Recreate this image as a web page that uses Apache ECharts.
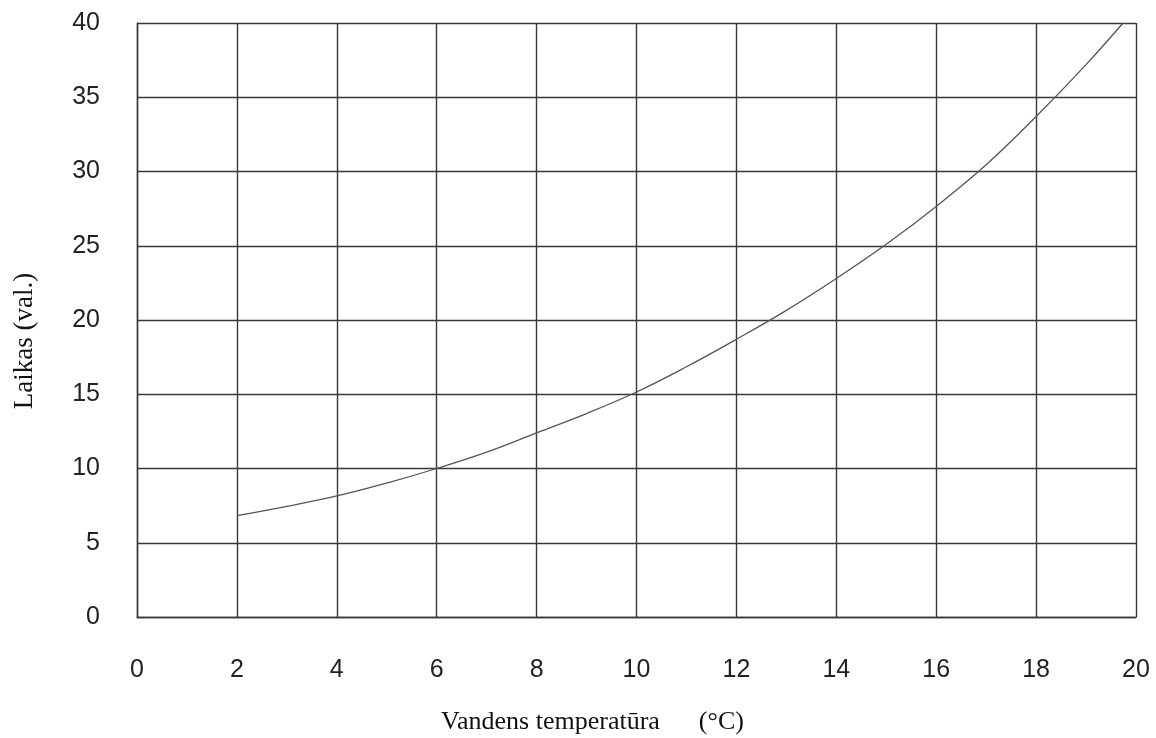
<!DOCTYPE html>
<html>
<head>
<meta charset="utf-8">
<script src="https://cdn.jsdelivr.net/npm/echarts@6/dist/echarts.min.js"></script>
<style>html,body{margin:0;padding:0;background:#fff}#c{width:1156px;height:738px}</style>
</head>
<body>
<div id="c"></div>
<script>
const temperature = [2, 3, 4, 5, 6, 7, 8, 9, 10, 11, 12, 13, 14, 15, 16, 17, 18, 19, 19.74];
const hours = [6.82, 7.45, 8.15, 9.02, 10.0, 11.1, 12.4, 13.7, 15.15, 16.85, 18.7, 20.65, 22.8, 25.1, 27.65, 30.45, 33.7, 37.2, 40.0];
const xTitle = 'Vandens temperatūra      (°C)';
const yTitle = 'Laikas (val.)';

const chart = echarts.init(document.getElementById('c'), null, {renderer: 'canvas'});
const gridColor = '#383838';
const tickFont = {fontFamily: 'Liberation Sans, Arial, sans-serif', fontSize: 25, color: '#222'};
chart.setOption({
  animation: false,
  backgroundColor: '#fff',
  grid: {left: 137, right: 20, top: 23, bottom: 121, containLabel: false, outerBoundsMode: 'none'},
  xAxis: {
    type: 'value', min: 0, max: 20, interval: 2,
    name: xTitle, nameLocation: 'middle', nameGap: 92,
    nameTextStyle: {fontFamily: 'Liberation Serif, Times New Roman, serif', fontSize: 26, color: '#111', padding: [0, 88, 0, 0]},
    axisLine: {show: true, lineStyle: {color: gridColor, width: 1.4}},
    axisTick: {show: false},
    axisLabel: Object.assign({margin: 41}, tickFont),
    splitLine: {show: true, lineStyle: {color: gridColor, width: 1.4}}
  },
  yAxis: {
    type: 'value', min: 0, max: 40, interval: 5,
    name: yTitle, nameLocation: 'middle', nameGap: 99, nameRotate: 90,
    nameTextStyle: {fontFamily: 'Liberation Serif, Times New Roman, serif', fontSize: 27, color: '#111', padding: [0, 42, 0, 0]},
    axisLine: {show: true, lineStyle: {color: gridColor, width: 1.4}},
    axisTick: {show: false},
    axisLabel: Object.assign({margin: 37}, tickFont),
    splitLine: {show: true, lineStyle: {color: gridColor, width: 1.4}}
  },
  series: [{
    type: 'line',
    data: temperature.map((t, i) => [t, hours[i]]),
    smooth: 0.4,
    showSymbol: false,
    lineStyle: {color: '#555', width: 1.3}
  }]
});
</script>
</body>
</html>
